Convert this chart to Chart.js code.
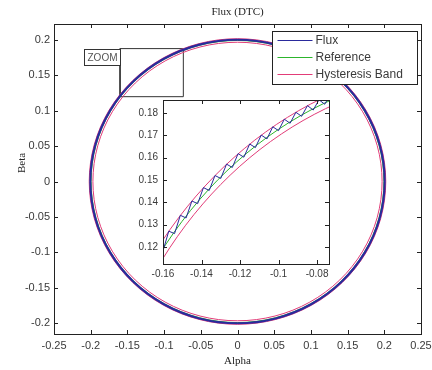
<!DOCTYPE html>
<html>
<head>
<meta charset="utf-8">
<script src="https://cdn.jsdelivr.net/npm/chart.js@4.4.0/dist/chart.umd.min.js"></script>
<style>
    html, body { margin: 0; padding: 0; background: #fff; }
    #wrap { position: relative; width: 432px; height: 370px; background: #fff; }
    #wrap canvas { position: absolute; left: 0; top: 0; }
</style>
</head>
<body>
<div id="wrap">
    <canvas id="mainChart" width="432" height="370"></canvas>
    <canvas id="zoomChart" width="432" height="370"></canvas>
</div>
<script>
// Circles are sampled every 15 degrees, starting at 60 deg (the seam sits under the legend)

// Reference flux circle
const refX = [0.0998, 0.0516, 0, -0.0516, -0.0998, -0.1411, -0.1728, -0.1927, -0.1995, -0.1927, -0.1728, -0.1411,
              -0.0998, -0.0516, 0, 0.0516, 0.0998, 0.1411, 0.1728, 0.1927, 0.1995, 0.1927, 0.1728, 0.1411, 0.0998];
const refY = [0.1728, 0.1927, 0.1995, 0.1927, 0.1728, 0.1411, 0.0998, 0.0516, 0, -0.0516, -0.0998, -0.1411,
              -0.1728, -0.1927, -0.1995, -0.1927, -0.1728, -0.1411, -0.0998, -0.0516, 0, 0.0516, 0.0998, 0.1411, 0.1728];

// Hysteresis band, outer edge
const bandOuterX = [0.101, 0.0523, 0, -0.0523, -0.101, -0.1428, -0.1749, -0.1951, -0.202, -0.1951, -0.1749, -0.1428,
                    -0.101, -0.0523, 0, 0.0523, 0.101, 0.1428, 0.1749, 0.1951, 0.202, 0.1951, 0.1749, 0.1428, 0.101];
const bandOuterY = [0.1749, 0.1951, 0.202, 0.1951, 0.1749, 0.1428, 0.101, 0.0523, 0, -0.0523, -0.101, -0.1428,
                    -0.1749, -0.1951, -0.202, -0.1951, -0.1749, -0.1428, -0.101, -0.0523, 0, 0.0523, 0.101, 0.1428, 0.1749];

// Hysteresis band, inner edge
const bandInnerX = [0.0985, 0.051, 0, -0.051, -0.0985, -0.1393, -0.1706, -0.1903, -0.197, -0.1903, -0.1706, -0.1393,
                    -0.0985, -0.051, 0, 0.051, 0.0985, 0.1393, 0.1706, 0.1903, 0.197, 0.1903, 0.1706, 0.1393, 0.0985];
const bandInnerY = [0.1706, 0.1903, 0.197, 0.1903, 0.1706, 0.1393, 0.0985, 0.051, 0, -0.051, -0.0985, -0.1393,
                    -0.1706, -0.1903, -0.197, -0.1903, -0.1706, -0.1393, -0.0985, -0.051, 0, 0.051, 0.0985, 0.1393, 0.1706];

// Flux as it looks at full scale
const fluxX = [0.1003, 0.0519, 0, -0.0519, -0.1003, -0.1418, -0.1736, -0.1937, -0.2005, -0.1937, -0.1736, -0.1418,
               -0.1003, -0.0519, 0, 0.0519, 0.1003, 0.1418, 0.1736, 0.1937, 0.2005, 0.1937, 0.1736, 0.1418, 0.1003];
const fluxY = [0.1736, 0.1937, 0.2005, 0.1937, 0.1736, 0.1418, 0.1003, 0.0519, 0, -0.0519, -0.1003, -0.1418,
               -0.1736, -0.1937, -0.2005, -0.1937, -0.1736, -0.1418, -0.1003, -0.0519, 0, 0.0519, 0.1003, 0.1418, 0.1736];

// Flux zig-zag inside the zoom window
const zoomFluxX = [-0.160, -0.157, -0.154, -0.151, -0.148, -0.145, -0.142, -0.139, -0.136, -0.133,
                   -0.130, -0.127, -0.124, -0.121, -0.118, -0.115, -0.112, -0.109, -0.106, -0.103,
                   -0.100, -0.097, -0.094, -0.091, -0.088, -0.085, -0.082, -0.079, -0.076, -0.073];
const zoomFluxY = [0.1183, 0.1271, 0.1260, 0.1342, 0.1330, 0.1406, 0.1394, 0.1466, 0.1453, 0.1520,
                   0.1507, 0.1571, 0.1556, 0.1618, 0.1602, 0.1661, 0.1645, 0.1701, 0.1684, 0.1738,
                   0.1721, 0.1772, 0.1754, 0.1803, 0.1785, 0.1833, 0.1813, 0.1859, 0.1839, 0.1884];

// zoom rectangle drawn on the main axes, and its tag
const zoomRectX = [-0.16, -0.0738, -0.0738, -0.16, -0.16];
const zoomRectY = [0.12, 0.12, 0.188, 0.188, 0.12];
const zoomTagX = [-0.2095, -0.16];
const zoomTagY = [0.165, 0.188];

// axis limits and ticks
const xRange = [-0.25, 0.25];
const yRange = [-0.2157, 0.2228];
const xTicks = [-0.25, -0.2, -0.15, -0.1, -0.05, 0, 0.05, 0.1, 0.15, 0.2, 0.25];
const xTickLabels = ['-0.25', '-0.2', '-0.15', '-0.1', '-0.05', '0', '0.05', '0.1', '0.15', '0.2', '0.25'];
const yTicks = [-0.2, -0.15, -0.1, -0.05, 0, 0.05, 0.1, 0.15, 0.2];
const yTickLabels = ['-0.2', '-0.15', '-0.1', '-0.05', '0', '0.05', '0.1', '0.15', '0.2'];

const insetXRange = [-0.16, -0.0738];
const insetYRange = [0.1124, 0.1858];
const insetXTicks = [-0.16, -0.14, -0.12, -0.1, -0.08];
const insetXTickLabels = ['-0.16', '-0.14', '-0.12', '-0.1', '-0.08'];
const insetYTicks = [0.12, 0.13, 0.14, 0.15, 0.16, 0.17, 0.18];
const insetYTickLabels = ['0.12', '0.13', '0.14', '0.15', '0.16', '0.17', '0.18'];

const titleText = 'Flux (DTC)';
const xTitle = 'Alpha';
const yTitle = 'Beta';

const colors = {
    flux: '#2a2a9c',
    reference: '#2cb52c',
    band: '#e23c78',
    frame: '#222222',
    text: '#3a3a3a'
};

const sansFont = "'Liberation Sans', Arial, sans-serif";
const serifFont = "'Liberation Serif', 'Times New Roman', serif";

function pts(xs, ys) {
    return xs.map((x, i) => ({ x: x, y: ys[i] }));
}

function circleSet(label, xs, ys, color, width) {
    return {
        label: label,
        data: pts(xs, ys),
        showLine: true,
        borderColor: color,
        borderWidth: width,
        pointRadius: 0,
        tension: 0.338,
        capBezierPoints: false
    };
}

// box round the axes with inward ticks, like matlab
const matlabBox = {
    id: 'matlabBox',
    afterDatasetsDraw(chart) {
        const { ctx, chartArea: a, scales } = chart;
        const x = scales.x, y = scales.y;
        ctx.save();
        ctx.strokeStyle = colors.frame;
        ctx.lineWidth = 1;
        ctx.strokeRect(a.left + 0.5, a.top + 0.5, a.right - a.left, a.bottom - a.top);
        ctx.beginPath();
        x.ticks.forEach(t => {
            const px = Math.round(x.getPixelForValue(t.value)) + 0.5;
            ctx.moveTo(px, a.bottom); ctx.lineTo(px, a.bottom - 4);
            ctx.moveTo(px, a.top); ctx.lineTo(px, a.top + 4);
        });
        y.ticks.forEach(t => {
            const py = Math.round(y.getPixelForValue(t.value)) + 0.5;
            ctx.moveTo(a.left, py); ctx.lineTo(a.left + 4, py);
            ctx.moveTo(a.right, py); ctx.lineTo(a.right - 4, py);
        });
        ctx.stroke();
        ctx.restore();
    }
};

// titles, zoom tag and boxed legend on the main axes
const mainDecor = {
    id: 'mainDecor',
    afterDraw(chart) {
        const { ctx, chartArea: a, scales: { x, y } } = chart;
        const cx = (a.left + a.right) / 2;
        ctx.save();
        ctx.fillStyle = '#222';
        ctx.font = '11px ' + serifFont;
        ctx.textAlign = 'center';
        ctx.textBaseline = 'middle';
        ctx.fillText(titleText, cx, 12);
        ctx.fillText(xTitle, cx, 361);
        ctx.save();
        ctx.translate(22, 163);
        ctx.rotate(-Math.PI / 2);
        ctx.fillText(yTitle, 0, 0);
        ctx.restore();

        // ZOOM tag
        const tl = Math.round(x.getPixelForValue(zoomTagX[0])) + 0.5;
        const tr = Math.round(x.getPixelForValue(zoomTagX[1])) + 0.5;
        const tt = Math.round(y.getPixelForValue(zoomTagY[1])) + 0.5;
        const tb = Math.round(y.getPixelForValue(zoomTagY[0])) + 0.5;
        ctx.fillStyle = '#fff';
        ctx.fillRect(tl, tt, tr - tl, tb - tt);
        ctx.strokeStyle = '#333';
        ctx.lineWidth = 1;
        ctx.strokeRect(tl, tt, tr - tl, tb - tt);
        ctx.fillStyle = '#555';
        ctx.font = '10px ' + sansFont;
        ctx.fillText('ZOOM', (tl + tr) / 2, (tt + tb) / 2 + 0.5);

        // legend
        const items = chart.data.datasets.filter(d => d.label);
        const lx = 272.5, ly = 31.5, lw = 145, lh = 53;
        ctx.fillStyle = '#fff';
        ctx.fillRect(lx, ly, lw, lh);
        ctx.strokeStyle = colors.frame;
        ctx.strokeRect(lx, ly, lw, lh);
        ctx.font = '12px ' + sansFont;
        ctx.textAlign = 'left';
        items.forEach((d, i) => {
            const ry = ly + 9 + i * 17;
            ctx.strokeStyle = d.borderColor;
            ctx.lineWidth = 1;
            ctx.beginPath();
            ctx.moveTo(lx + 5, ry);
            ctx.lineTo(lx + 40, ry);
            ctx.stroke();
            ctx.fillStyle = colors.text;
            ctx.fillText(d.label, lx + 43, ry);
        });
        ctx.restore();
    }
};

const whiteArea = {
    id: 'whiteArea',
    beforeDatasetsDraw(chart) {
        const a = chart.chartArea;
        chart.ctx.save();
        chart.ctx.fillStyle = '#fff';
        chart.ctx.fillRect(a.left, a.top, a.right - a.left, a.bottom - a.top);
        chart.ctx.restore();
    }
};

function linearAxis(range, ticks, labels, size, fontSize, pad, horizontal) {
    return {
        type: 'linear',
        min: range[0],
        max: range[1],
        grid: { display: false, drawTicks: false },
        border: { display: false },
        afterBuildTicks: s => { s.ticks = ticks.map(v => ({ value: v })); },
        afterFit: s => {
            if (horizontal) s.height = size; else s.width = size;
            s.paddingLeft = 0; s.paddingRight = 0; s.paddingTop = 0; s.paddingBottom = 0;
        },
        ticks: {
            autoSkip: false,
            maxRotation: 0,
            padding: pad,
            color: colors.text,
            font: { family: sansFont, size: fontSize },
            callback: (v, i) => labels[i]
        }
    };
}

document.addEventListener('DOMContentLoaded', function() {
    createMainChart();
    createZoomChart();
});

function createMainChart() {
    const rect = {
        data: pts(zoomRectX, zoomRectY),
        showLine: true,
        borderColor: '#333',
        borderWidth: 1,
        pointRadius: 0,
        tension: 0
    };

    new Chart(document.getElementById('mainChart'), {
        type: 'scatter',
        data: {
            datasets: [
                circleSet('Flux', fluxX, fluxY, colors.flux, 2.2),
                circleSet('Reference', refX, refY, colors.reference, 1),
                circleSet('Hysteresis Band', bandOuterX, bandOuterY, colors.band, 1),
                circleSet(null, bandInnerX, bandInnerY, colors.band, 1),
                rect
            ]
        },
        options: {
            responsive: false,
            animation: false,
            layout: { padding: { left: 0, right: 11, top: 24, bottom: 0 } },
            plugins: { legend: { display: false }, tooltip: { enabled: false } },
            scales: {
                x: linearAxis(xRange, xTicks, xTickLabels, 36, 11, 5, true),
                y: linearAxis(yRange, yTicks, yTickLabels, 54, 11, 4, false)
            }
        },
        plugins: [matlabBox, mainDecor]
    });
}

function createZoomChart() {
    const zoomFlux = {
        label: 'Flux',
        data: pts(zoomFluxX, zoomFluxY),
        showLine: true,
        borderColor: colors.flux,
        borderWidth: 1,
        pointRadius: 0,
        tension: 0
    };

    new Chart(document.getElementById('zoomChart'), {
        type: 'scatter',
        data: {
            datasets: [
                zoomFlux,
                circleSet('Reference', refX, refY, colors.reference, 1),
                circleSet('Hysteresis Band', bandOuterX, bandOuterY, colors.band, 1),
                circleSet(null, bandInnerX, bandInnerY, colors.band, 1)
            ]
        },
        options: {
            responsive: false,
            animation: false,
            layout: { padding: { left: 123, right: 103, top: 100, bottom: 86 } },
            plugins: { legend: { display: false }, tooltip: { enabled: false } },
            scales: {
                x: linearAxis(insetXRange, insetXTicks, insetXTickLabels, 20, 10, 4, true),
                y: linearAxis(insetYRange, insetYTicks, insetYTickLabels, 40, 10, 5, false)
            }
        },
        plugins: [whiteArea, matlabBox]
    });
}
</script>
</body>
</html>
